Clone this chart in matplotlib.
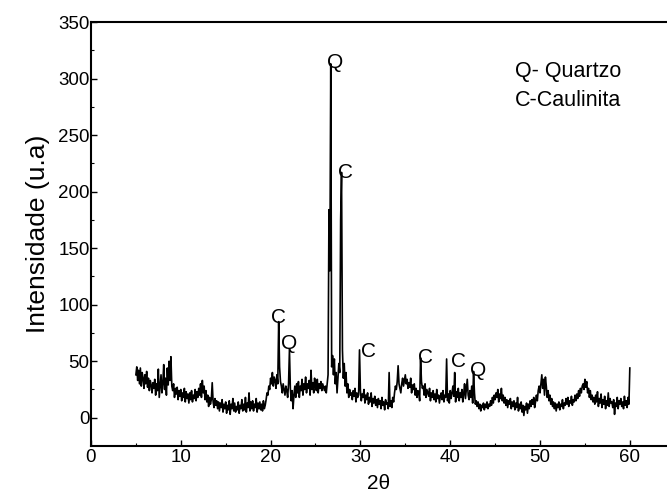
import numpy as np
import matplotlib.pyplot as plt

plt.rcParams['font.family'] = ['Liberation Sans', 'DejaVu Sans']

# XRD pattern, 2theta from 5 to 60 in 0.1 steps
two_theta_start = 5.0
two_theta_step = 0.1
intensity = [
    38, 45, 33, 42, 30, 44, 28, 40, 35, 26,
    38, 30, 41, 27, 35, 24, 33, 29, 22, 31,
    26, 34, 20, 30, 24, 43, 18, 28, 38, 22,
    30, 47, 25, 35, 20, 44, 29, 50, 33, 54,
    28, 24, 30, 18, 26, 21, 27, 16, 24, 19,
    25, 15, 22, 18, 26, 14, 23, 17, 21, 13,
    22, 16, 24, 14, 20, 17, 25, 15, 23, 18,
    26, 20, 30, 18, 33, 22, 28, 16, 24, 14,
    20, 10, 18, 12, 16, 31, 14, 9, 17, 11,
    15, 8, 14, 6, 13, 9, 16, 5, 12, 8,
    14, 4, 11, 7, 15, 3, 12, 8, 17, 6,
    13, 5, 10, 7, 14, 4, 11, 8, 16, 6,
    12, 7, 18, 5, 13, 9, 22, 6, 14, 8,
    15, 6, 12, 9, 17, 5, 13, 8, 14, 7,
    12, 6, 15, 8, 11, 16, 22, 20, 28, 25,
    35, 30, 40, 28, 36, 33, 26, 38, 30, 85,
    45, 32, 28, 22, 30, 25, 20, 28, 24, 18,
    30, 60, 26, 15, 24, 8, 20, 28, 18, 30,
    22, 32, 18, 28, 24, 34, 20, 30, 25, 36,
    22, 30, 26, 33, 20, 42, 25, 31, 22, 35,
    28, 24, 34, 22, 30, 26, 32, 24, 30, 27,
    24, 28, 22, 30, 38, 184, 130, 313, 45, 55,
    38, 52, 30, 40, 22, 35, 48, 40, 175, 217,
    60, 35, 48, 28, 40, 22, 30, 18, 25, 20,
    22, 16, 24, 19, 26, 14, 22, 18, 20, 60,
    24, 15, 21, 18, 25, 13, 20, 16, 22, 12,
    18, 14, 22, 10, 17, 13, 19, 11, 16, 9,
    17, 12, 15, 8, 18, 11, 14, 7, 16, 12,
    13, 8, 40, 10, 15, 9, 18, 14, 22, 28,
    25, 32, 46, 30, 26, 22, 30, 35, 28, 33,
    38, 30, 34, 26, 31, 27, 35, 22, 29, 25,
    30, 20, 26, 18, 24, 22, 15, 53, 32, 26,
    28, 20, 30, 18, 25, 22, 19, 26, 15, 22,
    18, 24, 16, 21, 14, 25, 17, 20, 13, 19,
    22, 16, 24, 14, 20, 18, 52, 15, 21, 13,
    24, 17, 22, 28, 19, 40, 14, 23, 18, 26,
    15, 22, 18, 25, 14, 21, 30, 17, 26, 34,
    20, 16, 24, 18, 28, 13, 41, 22, 12, 15,
    10, 14, 8, 12, 6, 11, 9, 13, 7, 12,
    9, 14, 8, 12, 10, 15, 11, 18, 13, 20,
    16, 22, 18, 25, 14, 21, 17, 26, 15, 20,
    13, 18, 11, 16, 9, 15, 12, 17, 8, 14,
    10, 15, 7, 13, 9, 18, 6, 12, 8, 14,
    5, 11, 2, 10, 7, 13, 4, 12, 8, 15,
    10, 16, 12, 18, 9, 14, 20, 15, 24, 28,
    22, 30, 38, 26, 34, 20, 36, 28, 18, 24,
    15, 20, 12, 17, 10, 14, 8, 13, 6, 12,
    9, 14, 7, 12, 10, 16, 8, 13, 11, 17,
    12, 18, 10, 15, 13, 19, 11, 16, 14, 20,
    15, 21, 17, 24, 19, 26, 22, 28, 30, 25,
    34, 27, 32, 22, 26, 18, 24, 16, 20, 14,
    18, 12, 20, 14, 23, 10, 17, 13, 21, 9,
    16, 12, 19, 8, 15, 11, 22, 10, 17, 13,
    14, 9, 16, 3, 13, 10, 18, 8, 15, 12,
    17, 10, 14, 8, 19, 11, 15, 9, 18, 12,
    44,
]
two_theta = two_theta_start + two_theta_step * np.arange(len(intensity))

# peak labels (phase, 2theta, height of label baseline)
peak_labels = ['C', 'Q', 'Q', 'C', 'C', 'C', 'C', 'Q']
peak_x = [20.9, 22.1, 27.2, 28.3, 30.9, 37.3, 40.9, 43.1]
peak_y = [84, 61, 309, 212, 54, 48, 45, 37]

fig = plt.figure(figsize=(6.67, 4.93), dpi=100)
ax = fig.add_axes([0.1364, 0.0953, 0.8636, 0.860])

ax.plot(two_theta, intensity, color='black', lw=1.2)

for lab, px, py in zip(peak_labels, peak_x, peak_y):
    ax.text(px, py, lab, ha='center', va='baseline', fontsize=15)

ax.text(47.2, 301.5, 'Q- Quartzo', fontsize=15.5, va='baseline')
ax.text(47.2, 276, 'C-Caulinita', fontsize=15.5, va='baseline')

ax.set_xlim(0, 64.14)
ax.set_ylim(-25, 350)
ax.set_xticks([0, 10, 20, 30, 40, 50, 60])
ax.set_yticks([0, 50, 100, 150, 200, 250, 300, 350])
ax.set_xticks(np.arange(5, 64, 10), minor=True)
ax.set_yticks(np.arange(25, 350, 50), minor=True)
ax.tick_params(direction='in', length=4, width=1, labelsize=13.5, pad=2)
ax.tick_params(which='minor', direction='in', length=2.5, width=0.8)
ax.tick_params(axis='y', pad=1)
ax.spines['right'].set_visible(False)
for s in ['left', 'bottom', 'top']:
    ax.spines[s].set_linewidth(1.5)

ax.set_xlabel('2θ', fontsize=15, labelpad=6)
ax.set_ylabel('Intensidade (u.a)', fontsize=19, labelpad=6)

fig.savefig('out.png', dpi=100)
